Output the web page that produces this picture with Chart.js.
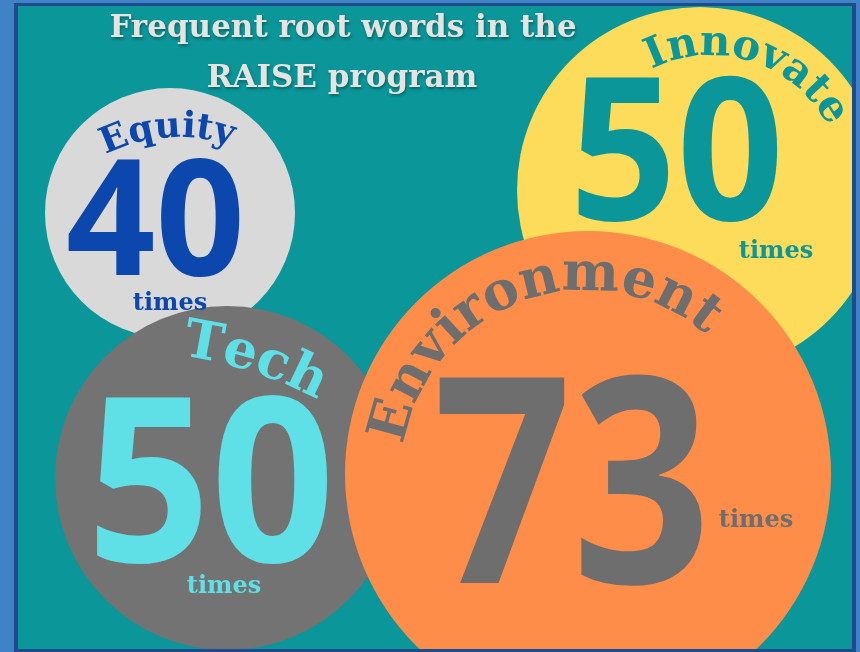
<!DOCTYPE html>
<html>
<head>
<meta charset="utf-8">
<script src="https://cdn.jsdelivr.net/npm/chart.js@4.4.1/dist/chart.umd.min.js"></script>
<style>
  html, body { margin: 0; padding: 0; }
  body { width: 860px; height: 652px; background: #3f82c6; position: relative; overflow: hidden; }
  #frame {
    position: absolute; left: 14px; top: 3px;
    width: 834px; height: 643px;
    border: 4px solid #1d4b8c; border-top-width: 3px; border-bottom-width: 3px;
    background: #0b969a;
  }
  #frame canvas { display: block; }
</style>
</head>
<body>
<div id="frame"><canvas id="bubbles" width="834" height="643"></canvas></div>
<script>
// データ
const titleLines = ['Frequent root words in the', 'RAISE program'];
const words = ['Equity', 'Innovate', 'Tech', 'Environment'];
const counts = [40, 50, 50, 73];
const unitLabel = 'times';

// バブルの配置（ページ座標）
const bubbleX = [170, 700, 227, 588];
const bubbleY = [213, 190, 478, 474];
const bubbleR = [125, 183, 172, 243];

// 色
const bubbleColors = ['#d9d9d9', '#fddb5b', '#737373', '#fd8d49'];
const textColors = ['#0c47ad', '#0b969a', '#5ee0e6', '#6e6e6e'];

// 数字の配置（バブル中心から：インクの左右端とベースライン）
const numberLayout = [
  { left: -102, right: 70, base: 62, size: 161 },
  { left: -122, right: 78, base: 30, size: 200 },
  { left: -130, right: 101, base: 84, size: 230 },
  { left: -151, right: 117, base: 109, size: 288 }
];
const arcLayout = [
  { dx: 9, dy: 87, r: 163, angle: -94, size: 36 },
  { dx: 11, dy: -3, r: 132, angle: -72, size: 42 },
  { dx: -99, dy: 274, r: 400, angle: -72, size: 53 },
  { dx: -2, dy: 1, r: 185, angle: -110, size: 54 }
];
const timesLayout = [
  { dx: 0, dy: 97 },
  { dx: 76, dy: 68 },
  { dx: -3, dy: 115 },
  { dx: 168, dy: 53 }
];

const SERIF = '"DejaVu Serif", "Liberation Serif", serif';
const SANS = '"Open Sans", "Noto Sans", sans-serif';

// 円弧に沿って文字を描く
function drawArcText(ctx, text, cx, cy, r, angleDeg, font, color) {
  ctx.save();
  ctx.font = font;
  ctx.fillStyle = color;
  ctx.textAlign = 'center';
  ctx.textBaseline = 'alphabetic';
  const chars = Array.from(text);
  const widths = chars.map(c => ctx.measureText(c).width);
  const total = widths.reduce((a, b) => a + b, 0);
  let a = angleDeg * Math.PI / 180 - total / r / 2;
  chars.forEach((ch, i) => {
    const ang = a + widths[i] / 2 / r;
    ctx.save();
    ctx.translate(cx + r * Math.cos(ang), cy + r * Math.sin(ang));
    ctx.rotate(ang + Math.PI / 2);
    ctx.fillText(ch, 0, 0);
    ctx.restore();
    a += widths[i] / r;
  });
  ctx.restore();
}

// 大きな数字（インク幅に合わせて横方向を詰める）
function drawNumber(ctx, text, x, y, n, color) {
  ctx.save();
  ctx.font = 'bold ' + n.size + 'px ' + SANS;
  ctx.fillStyle = color;
  ctx.textAlign = 'left';
  ctx.textBaseline = 'alphabetic';
  const m = ctx.measureText(text);
  const ink = m.actualBoundingBoxLeft + m.actualBoundingBoxRight;
  const sx = (n.right - n.left) / ink;
  ctx.translate(x + n.left, y + n.base);
  ctx.scale(sx, 1);
  ctx.fillText(text, m.actualBoundingBoxLeft, 0);
  ctx.restore();
}

const labelPlugin = {
  id: 'bubbleLabels',
  afterDatasetsDraw(chart) {
    const ctx = chart.ctx;
    const meta = chart.getDatasetMeta(0);
    const xs = chart.scales.x, ys = chart.scales.y;

    // タイトル
    ctx.save();
    ctx.font = 'bold 31px ' + SERIF;
    ctx.fillStyle = '#e6e4e0';
    ctx.textAlign = 'center';
    ctx.shadowColor = 'rgba(0,0,0,0.35)';
    ctx.shadowOffsetX = 1;
    ctx.shadowOffsetY = 2;
    ctx.shadowBlur = 3;
    ctx.fillText(titleLines[0], xs.getPixelForValue(343), ys.getPixelForValue(37), 472);
    ctx.fillText(titleLines[1], xs.getPixelForValue(342), ys.getPixelForValue(87), 276);
    ctx.restore();

    meta.data.forEach((pt, i) => {
      const { x, y } = pt.getProps(['x', 'y'], true);
      const color = textColors[i];

      drawNumber(ctx, String(counts[i]), x, y, numberLayout[i], color);

      // 単語（円弧）
      const a = arcLayout[i];
      drawArcText(ctx, words[i], x + a.dx, y + a.dy, a.r, a.angle, 'bold ' + a.size + 'px ' + SERIF, color);

      // times
      const t = timesLayout[i];
      ctx.save();
      ctx.font = 'bold 24px ' + SERIF;
      ctx.fillStyle = color;
      ctx.textAlign = 'center';
      ctx.fillText(unitLabel, x + t.dx, y + t.dy);
      ctx.restore();
    });
  }
};

new Chart(document.getElementById('bubbles'), {
  type: 'bubble',
  data: {
    datasets: [{
      label: 'root words',
      data: words.map((w, i) => ({ x: bubbleX[i], y: bubbleY[i], r: bubbleR[i] })),
      backgroundColor: bubbleColors,
      borderWidth: 0,
      hoverBorderWidth: 0
    }]
  },
  options: {
    responsive: false,
    animation: false,
    events: [],
    layout: { padding: 0, autoPadding: false },
    plugins: {
      legend: { display: false },
      title: { display: false },
      tooltip: { enabled: false }
    },
    scales: {
      x: { type: 'linear', display: false, min: 18, max: 852 },
      y: { type: 'linear', display: false, min: 6, max: 649, reverse: true }
    }
  },
  plugins: [labelPlugin]
});
</script>
</body>
</html>
